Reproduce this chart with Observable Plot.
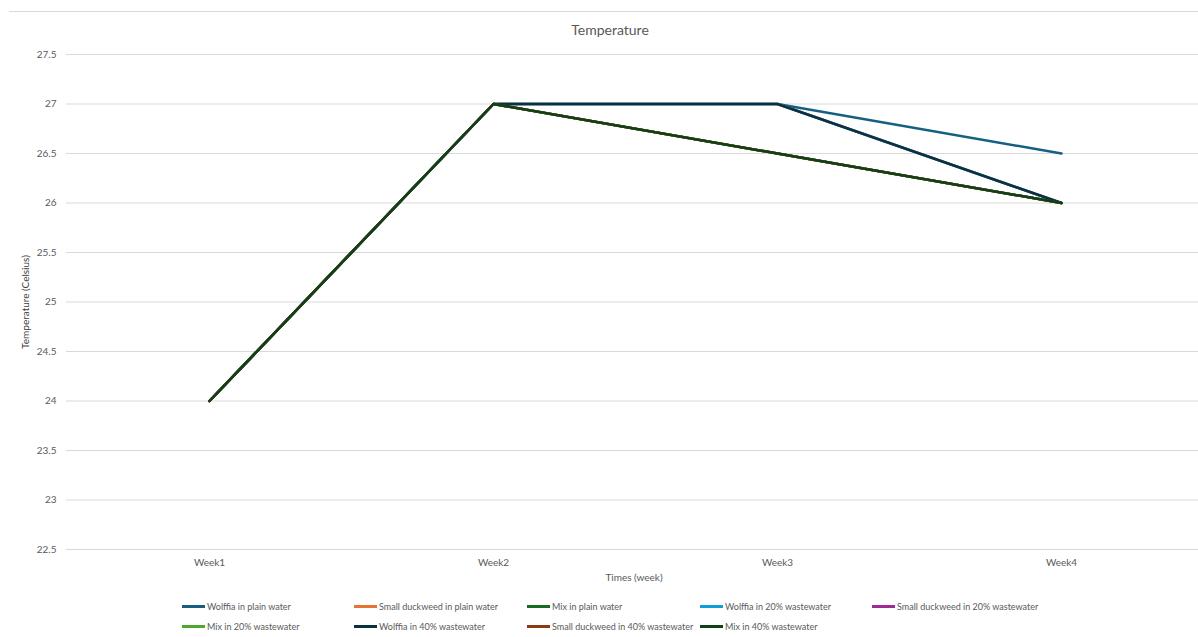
<!DOCTYPE html>
<html>
<head>
<meta charset="utf-8">
<script src="https://cdn.jsdelivr.net/npm/d3@7"></script>
<script src="https://cdn.jsdelivr.net/npm/@observablehq/plot@0.6"></script>
<style>
  html, body { margin: 0; padding: 0; background: #fff; overflow: hidden; }
  #wrap { position: relative; width: 1198px; height: 637px; font-family: Lato, "Open Sans", sans-serif; color: #595959; }
  #frame { position: absolute; left: 9px; top: 11px; width: 1189px; border-top: 1px solid #d9d9d9; }
  #title { position: absolute; top: 21px; left: 0; width: 1220px; text-align: center; font-size: 14px; color: #595959; }
  #chart { position: absolute; left: 0; top: 0; }
  .leg { position: absolute; font-size: 9px; color: #595959; white-space: nowrap; display: flex; align-items: center; }
  .leg span.sw { display: inline-block; width: 23px; height: 3px; margin-right: 2px; }
</style>
</head>
<body>
<div id="wrap">
  <div id="frame"></div>
  <div id="chart"></div>
  <div id="title">Temperature</div>
  <div id="legend"></div>
</div>
<script>
const weeks = ["Week1", "Week2", "Week3", "Week4"];
const seriesNames = [
  "Wolffia in plain water",
  "Small duckweed in plain water",
  "Mix in plain water",
  "Wolffia in 20% wastewater",
  "Small duckweed in 20% wastewater",
  "Mix in 20% wastewater",
  "Wolffia in 40% wastewater",
  "Small duckweed in 40% wastewater",
  "Mix in 40% wastewater"
];
const seriesColors = ["#156082", "#E97132", "#196B24", "#0F9ED5", "#A02B93", "#4EA72E", "#0B3041", "#8B3A12", "#0F4016"];
const wolffiaPlain = [24, 27, 27, 26.5];
const duckweedPlain = [24, 27, 27, 26];
const mixPlain = [24, 27, 26.5, 26];
const wolffia20 = [24, 27, 27, 26];
const duckweed20 = [24, 27, 26.5, 26];
const mix20 = [24, 27, 26.5, 26];
const wolffia40 = [24, 27, 27, 26];
const duckweed40 = [24, 27, 26.5, 26];
const mix40 = [24, 27, 26.5, 26];
const seriesValues = [wolffiaPlain, duckweedPlain, mixPlain, wolffia20, duckweed20, mix20, wolffia40, duckweed40, mix40];
const yTicks = [22.5, 23, 23.5, 24, 24.5, 25, 25.5, 26, 26.5, 27, 27.5];

const data = [];
seriesNames.forEach((name, i) => {
  weeks.forEach((w, j) => data.push({series: name, week: w, value: seriesValues[i][j]}));
});

const chart = Plot.plot({
  width: 1198,
  height: 590,
  marginLeft: 66,
  marginRight: 0,
  marginTop: 54,
  marginBottom: 41,
  style: {fontFamily: "Lato, 'Open Sans', sans-serif", fontSize: "10px", color: "#595959", background: "transparent"},
  x: {type: "point", domain: weeks, range: [208, 1061], padding: 0, label: null},
  y: {domain: [22.5, 27.5], label: null},
  color: {domain: seriesNames, range: seriesColors},
  marks: [
    Plot.ruleY(yTicks, {stroke: "#d9d9d9", strokeWidth: 1}),
    Plot.axisY({ticks: yTicks, tickSize: 0, tickPadding: 10, tickFormat: d => String(d), fill: "#595959", fontSize: 10}),
    Plot.axisX({tickSize: 0, tickPadding: 9, fill: "#595959", fontSize: 10}),
    Plot.text(["Temperature (Celsius)"], {frameAnchor: "left", dx: -41, rotate: -90, fill: "#404040", fontSize: 10, textAnchor: "middle"}),
    Plot.line(data, {x: "week", y: "value", z: "series", stroke: "series", strokeWidth: 2.5, strokeLinecap: "round", strokeLinejoin: "round"})
  ]
});
document.getElementById("chart").appendChild(chart);

// x axis title
const xl = document.createElement("div");
xl.textContent = "Times (week)";
xl.style.cssText = "position:absolute;top:571px;left:0;width:1268px;text-align:center;font-size:10px;color:#595959;";
document.getElementById("wrap").appendChild(xl);

const legend = document.getElementById("legend");
const colX = [182, 354, 527, 700, 872];
seriesNames.forEach((name, i) => {
  const row = Math.floor(i / 5), col = i % 5;
  const d = document.createElement("div");
  d.className = "leg";
  d.style.left = colX[col] + "px";
  d.style.top = (601 + row * 20) + "px";
  d.innerHTML = `<span class="sw" style="background:${seriesColors[i]}"></span>${name}`;
  legend.appendChild(d);
});
</script>
</body>
</html>
